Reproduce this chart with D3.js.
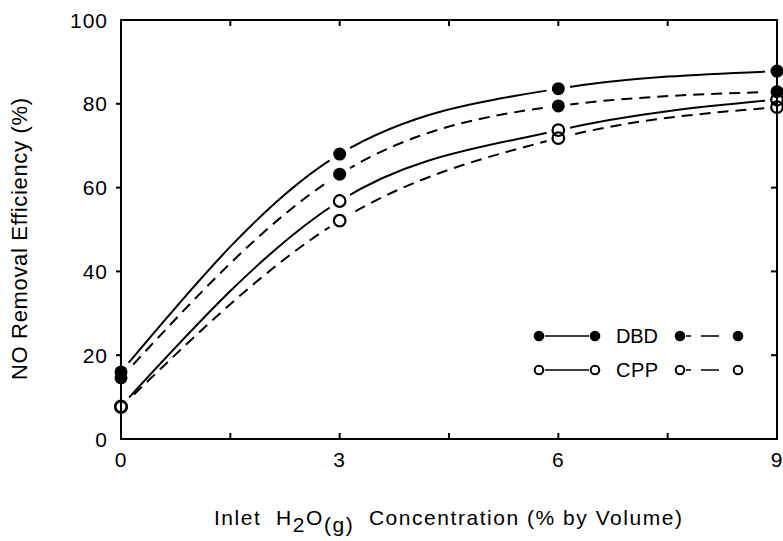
<!DOCTYPE html>
<html><head><meta charset="utf-8">
<script src="https://cdn.jsdelivr.net/npm/d3@7"></script>
<style>
body{margin:0;background:#fff;}
svg{display:block;font-family:"Liberation Sans",Arial,sans-serif;}
</style></head>
<body><svg id="c" width="783" height="541"></svg>
<script>
const concentration = [0, 3, 6, 9];
const dbdSolid  = [16, 68, 83.6, 87.8];
const dbdDashed = [14.6, 63.2, 79.5, 82.9];
const cppSolid  = [7.8, 56.8, 73.7, 81];
const cppDashed = [7.6, 52.1, 71.8, 79.2];
const xTicks = [0, 3, 6, 9];
const xMinor = [1.5, 4.5, 7.5];
const yTicks = [0, 20, 40, 60, 80, 100];

const series = [
  {vals: dbdSolid, filled: true, dash: null},
  {vals: dbdDashed, filled: true, dash: "11,7"},
  {vals: cppSolid, filled: false, dash: null},
  {vals: cppDashed, filled: false, dash: "11,7"}
];

const svg = d3.select("#c");
const x = d3.scaleLinear().domain([0, 9]).range([121, 777]);
const y = d3.scaleLinear().domain([0, 100]).range([439, 20]);

const line = d3.line().x((d,i)=>x(concentration[i])).y(d=>y(d)).curve(d3.curveMonotoneX);

const gLines = svg.append("g");
const gHalo = svg.append("g");
const gAxis = svg.append("g").attr("stroke","#000").attr("stroke-width",2).attr("fill","none");
const gMarks = svg.append("g");

series.forEach(s=>{
  gLines.append("path").attr("d", line(s.vals)).attr("fill","none")
    .attr("stroke","#000").attr("stroke-width",2)
    .attr("stroke-dasharray", s.dash);
  s.vals.forEach((v,i)=>{
    gHalo.append("circle").attr("cx", x(concentration[i])).attr("cy", y(v)).attr("r", 12).attr("fill","#fff");
    gMarks.append("circle").attr("cx", x(concentration[i])).attr("cy", y(v))
      .attr("r", s.filled ? 6.5 : 5.8)
      .attr("fill", s.filled ? "#000" : "none")
      .attr("stroke","#000").attr("stroke-width", s.filled ? 0 : 2.2);
  });
});

gAxis.append("rect").attr("x", x(0)).attr("y", y(100)).attr("width", x(9)-x(0)).attr("height", y(0)-y(100));
[...xTicks.slice(1,3), ...xMinor].forEach(t=>{
  gAxis.append("line").attr("x1",x(t)).attr("x2",x(t)).attr("y1",y(0)).attr("y2",y(0)-6);
  gAxis.append("line").attr("x1",x(t)).attr("x2",x(t)).attr("y1",y(100)).attr("y2",y(100)+6);
});
yTicks.slice(1,5).forEach(t=>{
  gAxis.append("line").attr("x1",x(0)-5).attr("x2",x(0)).attr("y1",y(t)).attr("y2",y(t));
  gAxis.append("line").attr("x1",x(9)-6).attr("x2",x(9)).attr("y1",y(t)).attr("y2",y(t));
});

xTicks.forEach(t=>{
  svg.append("text").attr("x", x(t)).attr("y", 467).attr("text-anchor","middle")
    .attr("font-size",21).attr("letter-spacing",1).text(t);
});
yTicks.forEach(t=>{
  svg.append("text").attr("x", 108).attr("y", y(t)).attr("dy","0.36em").attr("text-anchor","end")
    .attr("font-size",21).attr("letter-spacing",1).text(t);
});

svg.append("text").attr("transform","translate(27,239) rotate(-90)").attr("text-anchor","middle")
  .attr("font-size",22).attr("textLength",282).attr("lengthAdjust","spacing")
  .text("NO Removal Efficiency (%)");

const xt = svg.append("text").attr("x",214).attr("y",525).attr("font-size",21).style("white-space","pre");
xt.append("tspan").text("Inlet  H");
xt.append("tspan").attr("dy",7).text("2");
xt.append("tspan").attr("dy",-7).text("O");
xt.append("tspan").attr("dy",7).text("(g)");
xt.append("tspan").attr("dy",-7).text("  Concentration (% by Volume)");
xt.attr("textLength",468).attr("lengthAdjust","spacing");

const legRows = [
  {label:"DBD", filled:true, yy:336},
  {label:"CPP", filled:false, yy:370}
];
legRows.forEach(r=>{
  const mk = (cx)=>svg.append("circle").attr("cx",cx).attr("cy",r.yy)
    .attr("r", r.filled?5.3:4.3).attr("fill", r.filled?"#000":"#fff")
    .attr("stroke","#000").attr("stroke-width", r.filled?0:2);
  svg.append("line").attr("x1",545).attr("x2",589).attr("y1",r.yy).attr("y2",r.yy)
    .attr("stroke","#000").attr("stroke-width",1.6);
  svg.append("line").attr("x1",686).attr("x2",732).attr("y1",r.yy).attr("y2",r.yy)
    .attr("stroke","#000").attr("stroke-width",1.6).attr("stroke-dasharray","5,10,18,20");
  mk(539); mk(595); mk(680); mk(738);
  svg.append("text").attr("x",616).attr("y",r.yy).attr("dy","0.36em")
    .attr("font-size",20).attr("textLength",42).text(r.label);
});
</script></body></html>
